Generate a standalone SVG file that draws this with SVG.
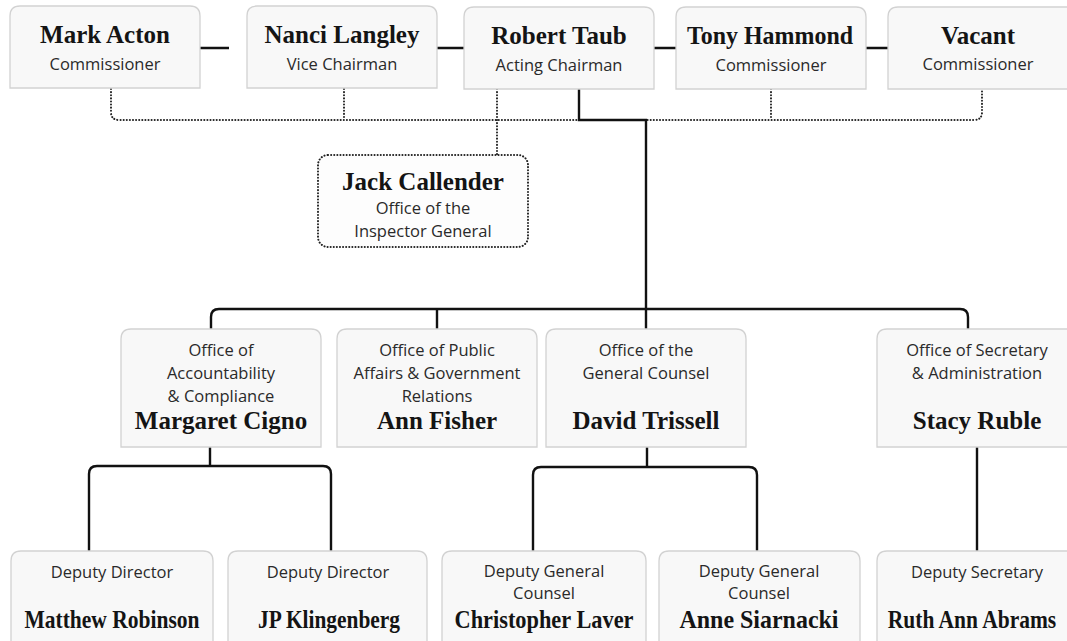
<svg xmlns="http://www.w3.org/2000/svg" width="1067" height="641" viewBox="0 0 1067 641">
<style>
.box{fill:#f8f8f8;stroke:#d2d2d2;stroke-width:1.3}
.dbox{fill:#fdfdfd;stroke:#222;stroke-width:2;stroke-dasharray:0.1 3;stroke-linecap:round}
.nm{font-family:"Liberation Serif","Times New Roman",serif;font-weight:bold;font-size:25px;fill:#141414;text-anchor:middle}
.sb{font-family:"Open Sans","Noto Sans",sans-serif;font-size:16.5px;fill:#2a2a2a;text-anchor:middle}
.ln{fill:none;stroke:#111;stroke-width:2.4}
.dl{fill:none;stroke:#222;stroke-width:2;stroke-dasharray:0.1 3;stroke-linecap:round}
</style>
<rect width="1067" height="641" fill="#ffffff"/>
<g id="connectors">
<path class="ln" d="M200 48H229M437 48H464M654 48H676M866 48H888"/>
<path class="dl" d="M111 89V112Q111 120 119 120H974Q982 120 982 112V89M344 89V120M497 89V155M771 89V120"/>
<path class="ln" d="M579 89V120H646V330"/>
<path class="ln" d="M211 329V317Q211 309 219 309H960Q968 309 968 317V329M437 309V329"/>
<path class="ln" d="M210 447V466M89 551V474Q89 466 97 466H323Q331 466 331 474V551"/>
<path class="ln" d="M647 447V467M533 551V475Q533 467 541 467H749Q757 467 757 475V551"/>
<path class="ln" d="M977 447V551"/>
</g>
<g id="mark-acton"><path class="box" d="M10 88V16Q10 6 20 6H190Q200 6 200 16V88Z"/><text class="nm" x="105" y="43">Mark Acton</text><text class="sb" x="105" y="70">Commissioner</text></g>
<g id="nanci-langley"><path class="box" d="M247 88V16Q247 6 257 6H427Q437 6 437 16V88Z"/><text class="nm" x="342" y="43">Nanci Langley</text><text class="sb" x="342" y="70">Vice Chairman</text></g>
<g id="robert-taub"><path class="box" d="M464 89V17Q464 7 474 7H644Q654 7 654 17V89Z"/><text class="nm" x="559" y="44">Robert Taub</text><text class="sb" x="559" y="71">Acting Chairman</text></g>
<g id="tony-hammond"><path class="box" d="M676 89V17Q676 7 686 7H856Q866 7 866 17V89Z"/><text class="nm" x="770" y="44" textLength="166" lengthAdjust="spacingAndGlyphs">Tony Hammond</text><text class="sb" x="771" y="71">Commissioner</text></g>
<g id="vacant"><path class="box" d="M888 89V17Q888 7 898 7H1068Q1078 7 1078 17V89Z"/><text class="nm" x="978" y="44">Vacant</text><text class="sb" x="978" y="70">Commissioner</text></g>
<g id="jack-callender"><rect class="dbox" x="318" y="155" width="210" height="92" rx="10"/><text class="nm" x="423" y="190">Jack Callender</text><text class="sb" x="423" y="214">Office of the</text><text class="sb" x="423" y="237">Inspector General</text></g>
<g id="margaret-cigno"><path class="box" d="M121 447V339Q121 329 131 329H311Q321 329 321 339V447Z"/><text class="sb" x="221" y="356">Office of</text><text class="sb" x="221" y="379">Accountability</text><text class="sb" x="221" y="402">&amp; Compliance</text><text class="nm" x="221" y="429">Margaret Cigno</text></g>
<g id="ann-fisher"><path class="box" d="M337 447V339Q337 329 347 329H527Q537 329 537 339V447Z"/><text class="sb" x="437" y="356">Office of Public</text><text class="sb" x="437" y="379">Affairs &amp; Government</text><text class="sb" x="437" y="402">Relations</text><text class="nm" x="437" y="429">Ann Fisher</text></g>
<g id="david-trissell"><path class="box" d="M546 447V339Q546 329 556 329H736Q746 329 746 339V447Z"/><text class="sb" x="646" y="356">Office of the</text><text class="sb" x="646" y="379">General Counsel</text><text class="nm" x="646" y="429">David Trissell</text></g>
<g id="stacy-ruble"><path class="box" d="M877 447V339Q877 329 887 329H1067Q1077 329 1077 339V447Z"/><text class="sb" x="977" y="356">Office of Secretary</text><text class="sb" x="977" y="379">&amp; Administration</text><text class="nm" x="977" y="429">Stacy Ruble</text></g>
<g id="matthew-robinson"><path class="box" d="M11 660V561Q11 551 21 551H203Q213 551 213 561V660Z"/><text class="sb" x="112" y="578">Deputy Director</text><text class="nm" x="112" y="628" textLength="175" lengthAdjust="spacingAndGlyphs">Matthew Robinson</text></g>
<g id="jp-klingenberg"><path class="box" d="M228 660V561Q228 551 238 551H417Q427 551 427 561V660Z"/><text class="sb" x="328" y="578">Deputy Director</text><text class="nm" x="329" y="628" textLength="142" lengthAdjust="spacingAndGlyphs">JP Klingenberg</text></g>
<g id="christopher-laver"><path class="box" d="M442 660V561Q442 551 452 551H636Q646 551 646 561V660Z"/><text class="sb" x="544" y="577">Deputy General</text><text class="sb" x="544" y="599">Counsel</text><text class="nm" x="544" y="628" textLength="179" lengthAdjust="spacingAndGlyphs">Christopher Laver</text></g>
<g id="anne-siarnacki"><path class="box" d="M659 660V561Q659 551 669 551H850Q860 551 860 561V660Z"/><text class="sb" x="759" y="577">Deputy General</text><text class="sb" x="759" y="599">Counsel</text><text class="nm" x="759" y="628" textLength="159" lengthAdjust="spacingAndGlyphs">Anne Siarnacki</text></g>
<g id="ruth-ann-abrams"><path class="box" d="M877 660V561Q877 551 887 551H1067Q1077 551 1077 561V660Z"/><text class="sb" x="977" y="578">Deputy Secretary</text><text class="nm" transform="translate(972 628) scale(0.86 1)" x="0" y="0">Ruth Ann Abrams</text></g>
</svg>
